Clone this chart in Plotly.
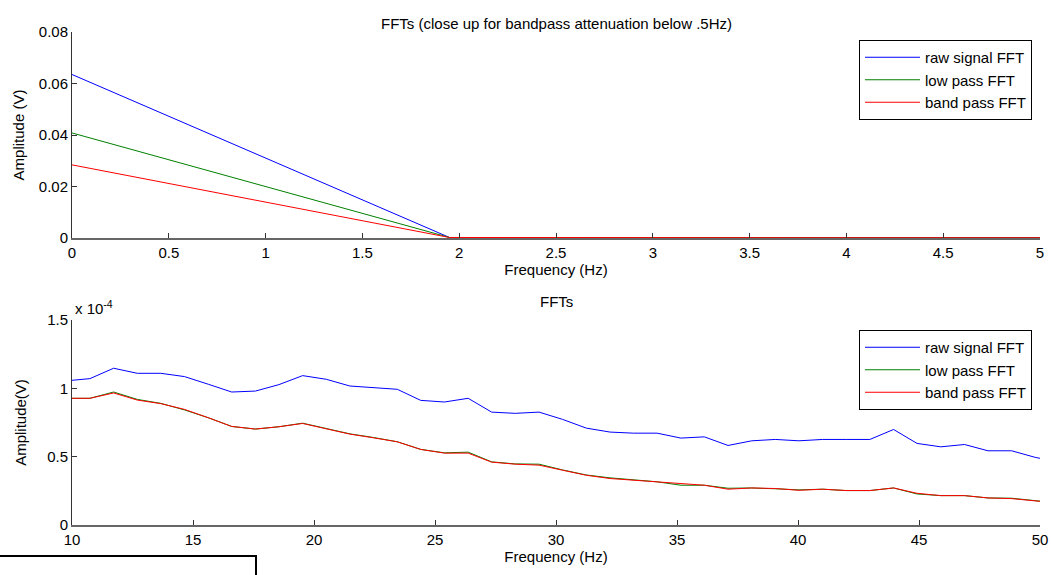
import plotly.graph_objects as go

# ---------------- data ----------------
# top panel: close-up of low frequencies
top_freq = [0.0, 1.95, 3.91, 5.86]
top_raw = [0.0635, 0.0002, 0.0001, 0.0001]
top_low = [0.0408, 0.0002, 0.0001, 0.0001]
top_band = [0.0284, 0.0002, 0.0001, 0.0001]

# bottom panel: 10-50 Hz (amplitudes in units of 1e-4 V)
freq = [9.77, 10.74, 11.72, 12.70, 13.67, 14.65, 15.63, 16.60, 17.58, 18.55,
        19.53, 20.51, 21.48, 22.46, 23.44, 24.41, 25.39, 26.37, 27.34, 28.32,
        29.30, 30.27, 31.25, 32.23, 33.20, 34.18, 35.16, 36.13, 37.11, 38.09,
        39.06, 40.04, 41.02, 41.99, 42.97, 43.95, 44.92, 45.90, 46.88, 47.85,
        48.83, 49.80, 50.78]
raw = [1.055, 1.071, 1.147, 1.110, 1.110, 1.086, 1.030, 0.973, 0.980, 1.027,
       1.093, 1.066, 1.017, 1.007, 0.993, 0.912, 0.900, 0.927, 0.826, 0.817,
       0.826, 0.773, 0.709, 0.680, 0.672, 0.672, 0.636, 0.645, 0.582, 0.616,
       0.626, 0.616, 0.626, 0.626, 0.626, 0.699, 0.597, 0.572, 0.589, 0.543,
       0.543, 0.495, 0.46]
low = [0.927, 0.927, 0.973, 0.919, 0.890, 0.842, 0.785, 0.721, 0.702, 0.719,
       0.745, 0.708, 0.667, 0.640, 0.609, 0.553, 0.528, 0.533, 0.462, 0.447,
       0.445, 0.403, 0.366, 0.345, 0.328, 0.316, 0.291, 0.291, 0.269, 0.271,
       0.265, 0.257, 0.262, 0.252, 0.252, 0.271, 0.227, 0.215, 0.215, 0.198,
       0.196, 0.178, 0.16]
band = [0.927, 0.927, 0.966, 0.914, 0.888, 0.846, 0.785, 0.721, 0.702, 0.719,
        0.743, 0.704, 0.665, 0.638, 0.609, 0.553, 0.526, 0.526, 0.460, 0.445,
        0.438, 0.401, 0.364, 0.340, 0.328, 0.318, 0.301, 0.291, 0.262, 0.271,
        0.267, 0.254, 0.262, 0.252, 0.252, 0.271, 0.232, 0.215, 0.215, 0.198,
        0.193, 0.175, 0.16]

names = ["raw signal FFT", "low pass FFT", "band pass FFT"]
colors = ["#0000ff", "#008000", "#ff0000"]

top_ticks = [0, 0.5, 1, 1.5, 2, 2.5, 3, 3.5, 4, 4.5, 5]
top_tick_text = ["0", "0.5", "1", "1.5", "2", "2.5", "3", "3.5", "4", "4.5", "5"]
top_yticks = [0, 0.02, 0.04, 0.06, 0.08]
top_ytick_text = ["0", "0.02", "0.04", "0.06", "0.08"]
bot_ticks = [10, 15, 20, 25, 30, 35, 40, 45, 50]
bot_yticks = [0, 0.5, 1, 1.5]
bot_ytick_text = ["0", "0.5", "1", "1.5"]

FONT = "Arial, 'Liberation Sans', sans-serif"
FS = 15

fig = go.Figure()
for ys, n, c in zip([top_raw, top_low, top_band], names, colors):
    fig.add_trace(go.Scatter(x=top_freq, y=ys, mode="lines", name=n,
                             line=dict(color=c, width=1),
                             xaxis="x", yaxis="y", legend="legend"))
for ys, n, c in zip([raw, low, band], names, colors):
    fig.add_trace(go.Scatter(x=freq, y=ys, mode="lines", name=n,
                             line=dict(color=c, width=1),
                             xaxis="x2", yaxis="y2", legend="legend2"))

W, H = 1051, 575
xd = [72 / W, 1040 / W]
axis_common = dict(showgrid=False, zeroline=False, ticks="inside", ticklen=5,
                   tickcolor="#333", showline=True, mirror=False,
                   automargin=False,
                   tickfont=dict(size=FS, color="#000", family=FONT))

fig.update_layout(
    width=W, height=H,
    margin=dict(l=0, r=0, t=0, b=0),
    paper_bgcolor="white", plot_bgcolor="white",
    font=dict(family=FONT, size=FS, color="#000"),
    xaxis=dict(domain=xd, anchor="y", range=[0, 5], tickvals=top_ticks,
               ticktext=top_tick_text, linecolor="#666", linewidth=1.5,
               title=dict(text="Frequency (Hz)", standoff=0,
                          font=dict(size=FS)), **axis_common),
    yaxis=dict(domain=[1 - 238 / H, 1 - 32 / H], anchor="x", range=[0, 0.08],
               tickvals=top_yticks, ticktext=top_ytick_text,
               linecolor="#333", linewidth=1,
               title=dict(text="Amplitude (V)", standoff=10,
                          font=dict(size=FS)), **axis_common),
    xaxis2=dict(domain=xd, anchor="y2", range=[10, 50], tickvals=bot_ticks,
                linecolor="#666", linewidth=1.5,
                title=dict(text="Frequency (Hz)", standoff=0,
                           font=dict(size=FS)), **axis_common),
    yaxis2=dict(domain=[1 - 525 / H, 1 - 320 / H], anchor="x2", range=[0, 1.5],
                tickvals=bot_yticks, ticktext=bot_ytick_text,
                linecolor="#333", linewidth=1,
                title=dict(text="Amplitude(V)", standoff=16,
                           font=dict(size=FS)), **axis_common),
    legend=dict(x=1032 / W, xanchor="right", y=1 - 40 / H, yanchor="top",
                bgcolor="white", bordercolor="#000", borderwidth=1,
                font=dict(size=FS, family=FONT), itemwidth=55),
    legend2=dict(x=1032 / W, xanchor="right", y=1 - 330 / H, yanchor="top",
                 bgcolor="white", bordercolor="#000", borderwidth=1,
                 font=dict(size=FS, family=FONT), itemwidth=55),
    showlegend=True,
)

fig.add_annotation(text="FFTs (close up for bandpass attenuation below .5Hz)",
                   x=556 / W, y=1 - 13 / H, xref="paper", yref="paper",
                   showarrow=False, font=dict(size=FS, family=FONT))
fig.add_annotation(text="FFTs", x=556 / W, y=1 - 301 / H, xref="paper",
                   yref="paper", showarrow=False,
                   font=dict(size=FS, family=FONT))
fig.add_annotation(text="x 10<sup>-4</sup>", x=73 / W, y=1 - 308 / H,
                   xref="paper", yref="paper", xanchor="left", showarrow=False,
                   font=dict(size=FS, family=FONT))

# partially visible box at bottom-left
fig.add_shape(type="rect", xref="paper", yref="paper",
              x0=-0.01, x1=256 / W, y0=-0.1, y1=1 - 556 / H,
              line=dict(color="#000", width=2), fillcolor="white")

fig.write_html("out.html")
